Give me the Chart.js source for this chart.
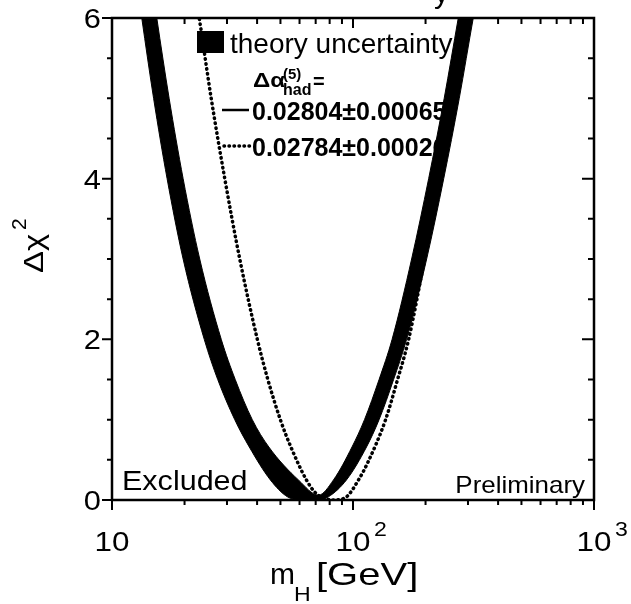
<!DOCTYPE html>
<html>
<head>
<meta charset="utf-8">
<script src="https://cdn.jsdelivr.net/npm/chart.js@4.4.1/dist/chart.umd.min.js"></script>
<style>
  body { margin: 0; background: #fff; }
  #wrap { width: 631px; height: 604px; }
</style>
</head>
<body>
<div id="wrap"><canvas id="chart" width="631" height="604"></canvas></div>
<script>
// theory band: upper edge (inner side of the U) and lower edge (outer side)
// m_H in GeV, delta chi2 (points above 6 only close the band off-frame)
const bandUpperM   = [12.0, 14.35, 15.34, 17.26, 19.73, 23.12, 28.4, 32.46, 38.21, 44.74, 59.36, 71.9, 82.98, 99.05, 111.6, 128.3, 145.3, 175.1, 206.0, 239.0, 273.4, 296.5, 350];
const bandUpperChi = [7.5, 6.6, 6.0, 5.0, 4.0, 3.0, 2.0, 1.5, 1.0, 0.66, 0.25, 0.06, 0.25, 0.66, 1.0, 1.5, 2.0, 3.0, 4.0, 5.0, 6.0, 6.6, 7.5];
const bandLowerM   = [12.46, 13.29, 14.88, 16.93, 19.73, 24.14, 27.46, 32.31, 37.12, 45.4, 53.42, 60.5, 72.0, 79.1, 93.97, 113.8, 128.3, 147.4, 166.9, 202.1, 237.9, 276.0, 315.5, 343.9];
const bandLowerChi = [6.6, 6.0, 5.0, 4.0, 3.0, 2.0, 1.5, 1.0, 0.66, 0.25, 0.04, 0, 0, 0.04, 0.25, 0.66, 1.0, 1.5, 2.0, 3.0, 4.0, 5.0, 6.0, 6.6];

// dotted curve, 0.02784 +- 0.00026
const dotM   = [21.31, 23.01, 25.8, 29.37, 33.89, 40.09, 44.32, 49.95, 55.24, 64.08, 69.84, 82.98, 93.97, 105.4, 114.9, 136.5, 153.1, 170.2, 198.3, 231.1, 269.4, 308.0];
const dotChi = [6.6, 6.0, 5.0, 4.0, 3.0, 2.0, 1.5, 1.0, 0.66, 0.25, 0.09, 0, 0.04, 0.25, 0.46, 1.0, 1.5, 2.0, 3.0, 4.0, 5.0, 6.0];

// axes
const xTicks = [10, 20, 30, 40, 50, 60, 70, 80, 90, 100, 200, 300, 400, 500, 600, 700, 800, 900, 1000];
const xMajor = [10, 100, 1000];
const xLabelBase = ["10", "10", "10"];
const xLabelExp = ["", "2", "3"];
const yTicks = [0, 0.5, 1, 1.5, 2, 2.5, 3, 3.5, 4, 4.5, 5, 5.5, 6];
const yMajor = [0, 2, 4, 6];
const yLabels = ["0", "2", "4", "6"];

const SANS = '"Liberation Sans", Arial, sans-serif';

function txt(ctx, s, x, y, font, align, sx) {
  ctx.save();
  ctx.font = font;
  ctx.textAlign = align || "left";
  ctx.textBaseline = "alphabetic";
  ctx.translate(x, y);
  ctx.scale(sx || 1, 1);
  ctx.fillText(s, 0, 0);
  ctx.restore();
}

function pts(ms, chis) {
  return ms.map((m, i) => ({ x: m, y: chis[i] }));
}

// legend goes under the band, so it is drawn before the datasets
const legendPlugin = {
  id: "legendBox",
  beforeDatasetsDraw(chart) {
    const ctx = chart.ctx;
    ctx.save();
    ctx.fillStyle = "#000";
    ctx.fillRect(197, 31, 27, 22);
    txt(ctx, "theory uncertainty", 230, 53, "28px " + SANS);
    txt(ctx, "\u0394\u03b1", 253, 87, "bold 20px " + SANS, "left", 1.2);
    txt(ctx, "(5)", 283, 79, "bold 15px " + SANS);
    txt(ctx, "had", 283, 95, "bold 16px " + SANS);
    txt(ctx, "=", 313, 88, "bold 20px " + SANS);
    ctx.strokeStyle = "#000";
    ctx.lineWidth = 2.5;
    ctx.beginPath();
    ctx.moveTo(222, 110);
    ctx.lineTo(249, 110);
    ctx.stroke();
    txt(ctx, "0.02804\u00b10.00065", 252, 120, "bold 25px " + SANS);
    ctx.lineWidth = 3.5;
    ctx.lineCap = "round";
    ctx.setLineDash([0.5, 4.5]);
    ctx.beginPath();
    ctx.moveTo(224, 146);
    ctx.lineTo(250, 146);
    ctx.stroke();
    ctx.setLineDash([]);
    txt(ctx, "0.02784\u00b10.00026", 252, 156, "bold 25px " + SANS);
    ctx.restore();
  }
};

// frame, ticks, labels
const framePlugin = {
  id: "frame",
  afterDraw(chart) {
    const ctx = chart.ctx;
    const a = chart.chartArea;
    const xs = chart.scales.x, ys = chart.scales.y;
    ctx.save();
    ctx.strokeStyle = "#000";
    ctx.fillStyle = "#000";
    ctx.lineWidth = 2.5;
    ctx.strokeRect(a.left, a.top, a.right - a.left, a.bottom - a.top);

    ctx.lineWidth = 2;
    ctx.beginPath();
    xTicks.forEach(v => {
      const px = xs.getPixelForValue(v);
      const big = xMajor.includes(v);
      ctx.moveTo(px, a.bottom);
      ctx.lineTo(px, a.bottom + (big ? 10 : 5));
      ctx.moveTo(px, a.top);
      ctx.lineTo(px, a.top + (big ? 10 : 6));
    });
    yTicks.forEach(v => {
      const py = ys.getPixelForValue(v);
      const big = yMajor.includes(v);
      ctx.moveTo(a.left, py);
      ctx.lineTo(a.left - (big ? 10 : 5), py);
      ctx.moveTo(a.right, py);
      ctx.lineTo(a.right - (big ? 12 : 6), py);
    });
    ctx.stroke();

    yMajor.forEach((v, i) => {
      txt(ctx, yLabels[i], 101, ys.getPixelForValue(v) + 10, "28px " + SANS, "right", 1.1);
    });
    xMajor.forEach((v, i) => {
      const px = xs.getPixelForValue(v);
      txt(ctx, xLabelBase[i], px, 551, "28px " + SANS, "center", 1.12);
      if (xLabelExp[i]) txt(ctx, xLabelExp[i], px + 21, 536, "21px " + SANS, "left", 1.1);
    });

    // axis titles
    txt(ctx, "m", 270, 584, "30px " + SANS);
    txt(ctx, "H", 294, 601, "21px " + SANS, "left", 1.1);
    txt(ctx, "[GeV]", 316, 585, "32px " + SANS, "left", 1.25);

    ctx.save();
    ctx.translate(43, 273);
    ctx.rotate(-Math.PI / 2);
    txt(ctx, "\u0394\u03c7", 0, 0, "28px " + SANS, "left", 1.17);
    txt(ctx, "2", 43, -17, "21px " + SANS);
    ctx.restore();

    txt(ctx, "Excluded", 122, 490, "28px " + SANS, "left", 1.09);
    txt(ctx, "Preliminary", 585, 493, "24px " + SANS, "right", 1.08);
    // bottom of the cut-off heading
    txt(ctx, "y", 434, 3, "30px " + SANS);
    ctx.restore();
  }
};

new Chart(document.getElementById("chart"), {
  type: "scatter",
  data: {
    datasets: [
      {
        label: "band upper",
        data: pts(bandUpperM, bandUpperChi),
        showLine: true,
        fill: "+1",
        backgroundColor: "#000",
        borderColor: "#000",
        borderWidth: 1,
        pointRadius: 0,
        cubicInterpolationMode: "monotone",
        order: 3
      },
      {
        label: "band lower",
        data: pts(bandLowerM, bandLowerChi),
        showLine: true,
        fill: false,
        borderColor: "#000",
        borderWidth: 1,
        pointRadius: 0,
        cubicInterpolationMode: "monotone",
        order: 2
      },
      {
        label: "0.02784\u00b10.00026",
        data: pts(dotM, dotChi),
        showLine: true,
        fill: false,
        borderColor: "#000",
        borderWidth: 3.5,
        borderDash: [0.5, 4.5],
        borderCapStyle: "round",
        pointRadius: 0,
        cubicInterpolationMode: "monotone",
        order: 1
      }
    ]
  },
  options: {
    responsive: false,
    animation: false,
    devicePixelRatio: 1,
    layout: { autoPadding: false, padding: { left: 112, right: 37, top: 18, bottom: 104 } },
    plugins: { legend: { display: false }, tooltip: { enabled: false } },
    scales: {
      x: { type: "logarithmic", min: 10, max: 1000, display: false },
      y: { type: "linear", min: 0, max: 6, display: false }
    }
  },
  plugins: [legendPlugin, framePlugin]
});
</script>
</body>
</html>
